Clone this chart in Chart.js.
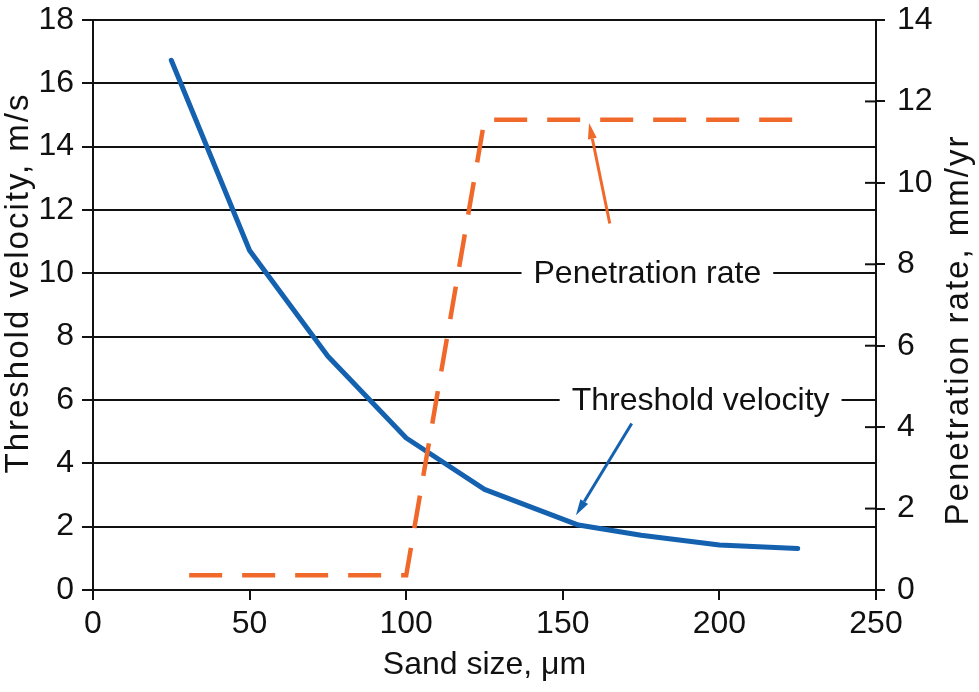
<!DOCTYPE html>
<html>
<head>
<meta charset="utf-8">
<script src="https://cdn.jsdelivr.net/npm/chart.js@4.4.1/dist/chart.umd.min.js"></script>
<style>
html,body{margin:0;padding:0;background:#fff;}
canvas{display:block;}
</style>
</head>
<body>
<canvas id="c" width="979" height="692"></canvas>
<script>
// ---- data ----
const sandSize = [25, 50, 75, 100, 125, 155, 175, 200, 225];
const thresholdVelocity = [16.73, 10.72, 7.38, 4.8, 3.18, 2.05, 1.73, 1.42, 1.31];
const penSize = [30.7, 100, 125, 225];
const penetrationRate = [0.36, 0.36, 11.55, 11.55];
const xTicks = [0, 50, 100, 150, 200, 250];
const leftTicks = [0, 2, 4, 6, 8, 10, 12, 14, 16, 18];
const rightTicks = [0, 2, 4, 6, 8, 10, 12, 14];
const xTitle = 'Sand size, \u03bcm';
const leftTitle = 'Threshold velocity, m/s';
const rightTitle = 'Penetration rate, mm/yr';
const labelPen = {text: 'Penetration rate', x: 177, y: 10};
const labelThr = {text: 'Threshold velocity', x: 194, y: 6};
const arrowPen = {x1: 165, y1: 9.0, x2: 158.4, y2: 11.47};
const arrowThr = {x1: 172, y1: 5.26, x2: 154.2, y2: 2.36};

const BLUE = '#1461b0';
const ORANGE = '#f0692a';
const FONT = '"Liberation Sans", Arial, Helvetica, sans-serif';

const bluePts = sandSize.map((x, i) => ({x, y: thresholdVelocity[i]}));
const orangePts = penSize.map((x, i) => ({x, y: penetrationRate[i]}));

const bgPlugin = {
  id: 'bg',
  beforeDraw(chart) {
    const ctx = chart.ctx;
    ctx.save();
    ctx.fillStyle = '#fff';
    ctx.fillRect(0, 0, chart.width, chart.height);
    ctx.restore();
  }
};

function drawArrow(ctx, x1, y1, x2, y2, color, lw, headLen, headW) {
  const ang = Math.atan2(y2 - y1, x2 - x1);
  const bx = x2 - headLen * Math.cos(ang);
  const by = y2 - headLen * Math.sin(ang);
  ctx.save();
  ctx.strokeStyle = color;
  ctx.fillStyle = color;
  ctx.lineWidth = lw;
  ctx.beginPath();
  ctx.moveTo(x1, y1);
  ctx.lineTo(bx, by);
  ctx.stroke();
  ctx.beginPath();
  ctx.moveTo(x2, y2);
  ctx.lineTo(bx + headW * Math.sin(ang), by - headW * Math.cos(ang));
  ctx.lineTo(bx - headW * Math.sin(ang), by + headW * Math.cos(ang));
  ctx.closePath();
  ctx.fill();
  ctx.restore();
}

function drawVerticalTitle(ctx, text, cx, cy) {
  ctx.save();
  ctx.font = '33px ' + FONT;
  try { ctx.letterSpacing = '2px'; } catch (e) {}
  ctx.fillStyle = '#111';
  ctx.textAlign = 'center';
  ctx.textBaseline = 'middle';
  ctx.translate(cx, cy);
  ctx.rotate(-Math.PI / 2);
  ctx.fillText(text, 0, 0);
  ctx.restore();
}

const annoPlugin = {
  id: 'anno',
  afterDraw(chart) {
    const ctx = chart.ctx;
    const sx = chart.scales.x, sy = chart.scales.y, sy2 = chart.scales.y2;
    const area = chart.chartArea;
    // inner part of right-axis ticks
    ctx.save();
    ctx.strokeStyle = '#111';
    ctx.lineWidth = 2;
    rightTicks.forEach(v => {
      const py = sy2.getPixelForValue(v);
      ctx.beginPath();
      ctx.moveTo(sy2.left - 11, py);
      ctx.lineTo(sy2.left, py);
      ctx.stroke();
    });
    ctx.restore();
    // axis titles, reading bottom-to-top
    const mid = (area.top + area.bottom) / 2;
    drawVerticalTitle(ctx, leftTitle, sy.left + 19, mid - 22);
    drawVerticalTitle(ctx, rightTitle, sy2.right - 20, mid + 25);
    // text labels with white background
    ctx.save();
    ctx.font = '32px ' + FONT;
    ctx.textAlign = 'center';
    ctx.textBaseline = 'middle';
    [labelPen, labelThr].forEach(l => {
      const px = sx.getPixelForValue(l.x);
      const py = sy.getPixelForValue(l.y);
      const w = ctx.measureText(l.text).width;
      ctx.fillStyle = '#fff';
      ctx.fillRect(px - w / 2 - 12, py - 6, w + 24, 12);
      ctx.fillStyle = '#111';
      ctx.fillText(l.text, px, py + 1);
    });
    ctx.restore();
    // arrows
    drawArrow(ctx,
      sx.getPixelForValue(arrowPen.x1), sy2.getPixelForValue(arrowPen.y1),
      sx.getPixelForValue(arrowPen.x2), sy2.getPixelForValue(arrowPen.y2),
      ORANGE, 3, 16, 4.5);
    drawArrow(ctx,
      sx.getPixelForValue(arrowThr.x1), sy.getPixelForValue(arrowThr.y1),
      sx.getPixelForValue(arrowThr.x2), sy.getPixelForValue(arrowThr.y2),
      BLUE, 3, 16, 4.5);
  }
};

new Chart(document.getElementById('c'), {
  type: 'line',
  data: {
    datasets: [
      {
        label: 'Penetration rate',
        data: orangePts,
        yAxisID: 'y2',
        borderColor: ORANGE,
        borderWidth: 4.5,
        borderDash: [33, 20],
        borderCapStyle: 'butt',
        pointRadius: 0,
        tension: 0,
        fill: false
      },
      {
        label: 'Threshold velocity',
        data: bluePts,
        yAxisID: 'y',
        borderColor: BLUE,
        borderWidth: 5,
        borderCapStyle: 'round',
        borderJoinStyle: 'round',
        pointRadius: 0,
        tension: 0,
        fill: false
      }
    ]
  },
  options: {
    responsive: false,
    devicePixelRatio: 1,
    animation: false,
    layout: {padding: {top: 20, left: 0, right: 0, bottom: 0}},
    plugins: {legend: {display: false}, tooltip: {enabled: false}},
    scales: {
      x: {
        type: 'linear',
        position: 'bottom',
        min: 0, max: 250,
        afterBuildTicks: s => { s.ticks = xTicks.map(v => ({value: v})); },
        afterFit: s => { s.height = 102; s.paddingLeft = 0; s.paddingRight = 0; },
        grid: {drawOnChartArea: false, drawTicks: true, tickLength: 10, color: '#111', lineWidth: 2},
        border: {display: true, color: '#111', width: 2},
        ticks: {color: '#111', font: {family: FONT, size: 32}, padding: 5, maxRotation: 0},
        title: {display: true, text: xTitle, color: '#111', font: {family: FONT, size: 32}, padding: {top: 0, bottom: 8}}
      },
      y: {
        type: 'linear',
        position: 'left',
        min: 0, max: 18,
        afterBuildTicks: s => { s.ticks = leftTicks.map(v => ({value: v})); },
        afterFit: s => { s.width = 93; s.paddingTop = 0; s.paddingBottom = 0; },
        grid: {drawOnChartArea: true, drawTicks: true, tickLength: 11, color: '#111', lineWidth: 2},
        border: {display: true, color: '#111', width: 2},
        ticks: {color: '#111', font: {family: FONT, size: 32}, padding: 8},
        title: {display: false, text: leftTitle}
      },
      y2: {
        type: 'linear',
        position: 'right',
        min: 0, max: 14,
        afterBuildTicks: s => { s.ticks = rightTicks.map(v => ({value: v})); },
        afterFit: s => { s.width = 103; s.paddingTop = 0; s.paddingBottom = 0; },
        grid: {drawOnChartArea: false, drawTicks: true, tickLength: 9, color: '#111', lineWidth: 2},
        border: {display: true, color: '#111', width: 2},
        ticks: {color: '#111', font: {family: FONT, size: 32}, padding: 12},
        title: {display: false, text: rightTitle}
      }
    }
  },
  plugins: [bgPlugin, annoPlugin]
});
</script>
</body>
</html>
